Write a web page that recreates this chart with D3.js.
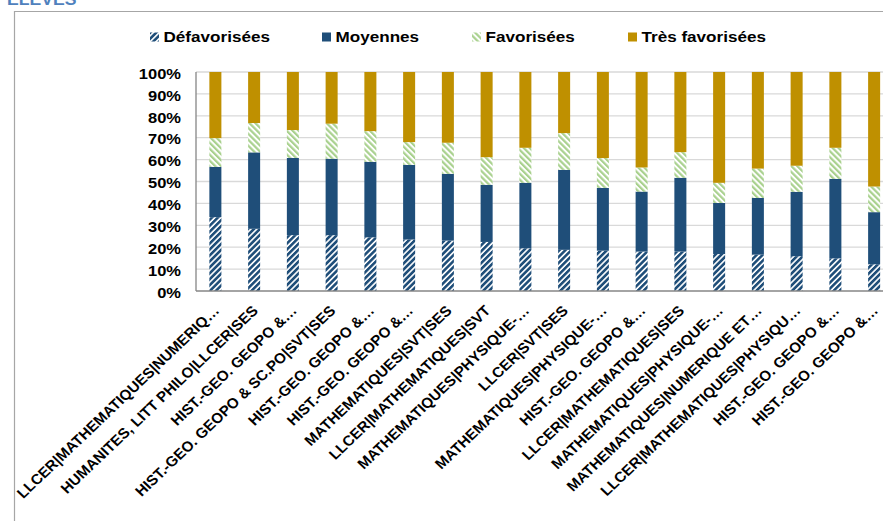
<!DOCTYPE html>
<html><head><meta charset="utf-8">
<script src="https://cdn.jsdelivr.net/npm/d3@7"></script>
<style>body{margin:0;background:#fff}svg{display:block}text{font-family:"Liberation Sans",Arial,sans-serif;font-weight:bold}</style>
</head><body><svg id="c" width="883" height="521"></svg>
<script>
const categories = [
 "LLCER|MATHEMATIQUES|NUMERIQ…",
 "HUMANITES, LITT PHILO|LLCER|SES",
 "HIST.-GEO. GEOPO &…",
 "HIST.-GEO. GEOPO & SC.PO|SVT|SES",
 "HIST.-GEO. GEOPO &…",
 "HIST.-GEO. GEOPO &…",
 "MATHEMATIQUES|SVT|SES",
 "LLCER|MATHEMATIQUES|SVT",
 "MATHEMATIQUES|PHYSIQUE-…",
 "LLCER|SVT|SES",
 "MATHEMATIQUES|PHYSIQUE-…",
 "HIST.-GEO. GEOPO &…",
 "LLCER|MATHEMATIQUES|SES",
 "MATHEMATIQUES|PHYSIQUE-…",
 "MATHEMATIQUES|NUMERIQUE ET…",
 "LLCER|MATHEMATIQUES|PHYSIQU…",
 "HIST.-GEO. GEOPO &…",
 "HIST.-GEO. GEOPO &…"
];
const seriesNames = ["Défavorisées","Moyennes","Favorisées","Très favorisées"];
const defavorisees   = [33.7,28.4,25.5,25.5,24.5,23.5,23.0,22.4,19.5,18.8,18.4,18.0,18.0,16.9,16.6,15.9,14.9,12.2];
const moyennes       = [23.0,34.9,35.3,34.9,34.5,34.1,30.5,26.1,29.9,36.5,28.7,27.4,33.7,23.3,25.9,29.4,36.3,23.8];
const favorisees     = [13.1,13.4,12.7,16.0,14.0,10.4,14.2,12.6,16.0,16.8,13.6,11.0,11.7, 9.2,13.4,11.9,14.2,11.7];
const tresFavorisees = [30.2,23.3,26.5,23.6,27.0,32.0,32.3,38.9,34.6,27.9,39.3,43.6,36.6,50.6,44.1,42.8,34.6,52.3];
const yTicks = [0,10,20,30,40,50,60,70,80,90,100];
const titleText = "ÉLÈVES";

const svg = d3.select("#c");
const SX = 1.1;
const defs = svg.append("defs");
function stripes(id, color, angle, w, on){
  const p = defs.append("pattern").attr("id",id).attr("patternUnits","userSpaceOnUse")
    .attr("width",w).attr("height",w).attr("patternTransform",`rotate(${angle})`);
  p.append("rect").attr("width",w).attr("height",w).attr("fill","#fff");
  p.append("rect").attr("width",on).attr("height",w).attr("fill",color);
}
stripes("pDef","#1f4e79",45,4.2,2.6);
stripes("pFav","#a9d18e",-45,4.2,2.2);
const fills = ["url(#pDef)","#1f4e79","url(#pFav)","#bf9000"];

// outer frame
svg.append("path").attr("d","M14.5,521 V11.5 H883").attr("fill","none").attr("stroke","#a6a6a6").attr("stroke-width",1.2);
svg.append("text").attr("transform",`translate(7,5) scale(${SX},1)`).attr("fill","#4f81bd").attr("font-size",16).text(titleText);

const x = d3.scaleBand().domain(d3.range(categories.length)).range([196,893.5]).paddingInner(0.69).paddingOuter(0.345);
const y = d3.scaleLinear().domain([0,100]).range([291,72]);

// gridlines
svg.append("g").selectAll("line").data(yTicks.filter(t=>t>0)).join("line")
  .attr("x1",196).attr("x2",883).attr("y1",d=>y(d)).attr("y2",d=>y(d))
  .attr("stroke","#d9d9d9").attr("stroke-width",1.3);

const rows = categories.map((c,i)=>({i, v:[defavorisees[i],moyennes[i],favorisees[i],tresFavorisees[i]]}));
const stack = d3.stack().keys([0,1,2,3]).value((d,k)=>d.v[k]);
const series = stack(rows);
svg.append("g").selectAll("g").data(series).join("g").attr("fill",(d,k)=>fills[k])
  .selectAll("rect").data(d=>d).join("rect")
  .attr("x",d=>x(d.data.i)).attr("width",x.bandwidth())
  .attr("y",d=>y(d[1])).attr("height",d=>y(d[0])-y(d[1]));

// axes lines
svg.append("line").attr("x1",196).attr("x2",196).attr("y1",72).attr("y2",291).attr("stroke","#868686").attr("stroke-width",1.3);
svg.append("line").attr("x1",196).attr("x2",883).attr("y1",291).attr("y2",291).attr("stroke","#868686").attr("stroke-width",1.3);

// y tick labels
const yAxis = d3.axisLeft(y).tickValues(yTicks).tickFormat(d=>d+"%").tickSize(0).tickPadding(0);
const ga = svg.append("g").call(yAxis);
ga.select(".domain").remove();
ga.selectAll(".tick text").remove();
ga.selectAll(".tick").append("text")
  .attr("transform",`translate(181,1.5) scale(${SX},1)`)
  .attr("text-anchor","end").attr("dy","0.35em").attr("font-size",15).attr("fill","#000")
  .text(d=>d+"%");
ga.selectAll(".tick").attr("transform",d=>`translate(0,${y(d)})`);

// x labels
svg.append("g").selectAll("text").data(categories).join("text")
  .attr("transform",(d,i)=>`translate(${x(i)+x.bandwidth()/2+1},308) scale(1.05,1) rotate(-45)`)
  .attr("text-anchor","end").attr("dy","0.35em").attr("font-size",14.5).attr("fill","#000")
  .text(d=>d);

// legend
const legX = [150,322,472,628];
const lg = svg.append("g").selectAll("g").data(seriesNames).join("g")
  .attr("transform",(d,k)=>`translate(${legX[k]},37)`);
lg.append("rect").attr("x",0).attr("y",-4.5).attr("width",9).attr("height",9).attr("fill",(d,k)=>fills[k]);
lg.append("text").attr("transform",`translate(13.5,0) scale(1.14,1)`).attr("dy","0.36em").attr("font-size",15).attr("fill","#000").text(d=>d);
</script></body></html>
